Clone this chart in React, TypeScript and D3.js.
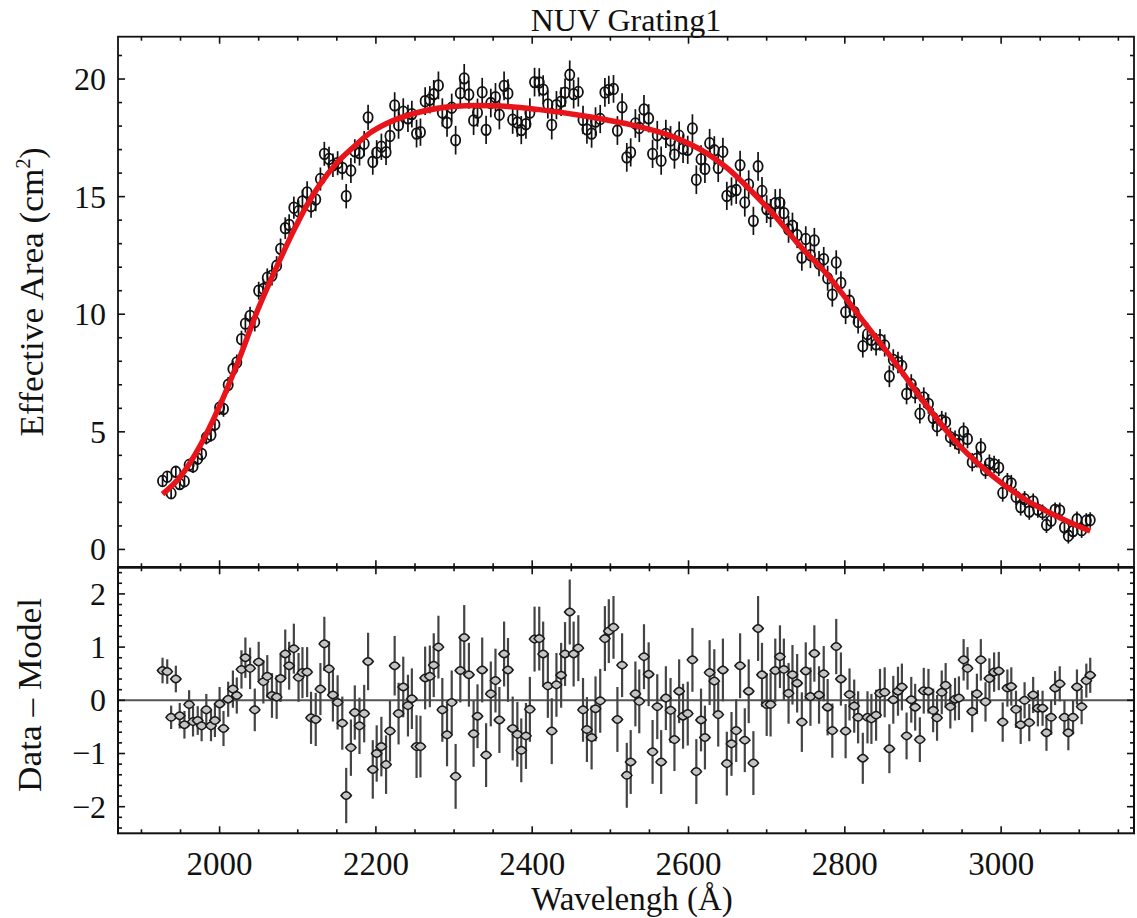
import React from "react";
import * as d3 from "d3";

// Bin centres (Å)
const WAVELENGTH = [
  1927, 1933, 1938, 1944, 1949, 1955, 1961, 1966, 1972, 1977,
  1983, 1989, 1994, 2000, 2005, 2011, 2017, 2022, 2028, 2033,
  2039, 2045, 2050, 2056, 2061, 2067, 2073, 2078, 2084, 2089,
  2095, 2101, 2106, 2112, 2117, 2123, 2129, 2134, 2140, 2145,
  2151, 2157, 2162, 2168, 2173, 2179, 2185, 2190, 2196, 2201,
  2207, 2213, 2218, 2224, 2229, 2235, 2241, 2246, 2252, 2257,
  2263, 2269, 2274, 2280, 2285, 2291, 2297, 2302, 2308, 2313,
  2319, 2325, 2330, 2336, 2341, 2347, 2353, 2358, 2364, 2369,
  2375, 2381, 2386, 2392, 2397, 2403, 2409, 2414, 2420, 2425,
  2431, 2437, 2442, 2448, 2453, 2459, 2465, 2470, 2476, 2481,
  2487, 2493, 2498, 2504, 2509, 2515, 2521, 2526, 2532, 2537,
  2543, 2549, 2554, 2560, 2565, 2571, 2577, 2582, 2588, 2593,
  2599, 2605, 2610, 2616, 2621, 2627, 2633, 2638, 2644, 2649,
  2655, 2661, 2666, 2672, 2677, 2683, 2689, 2694, 2700, 2705,
  2711, 2717, 2722, 2728, 2733, 2739, 2745, 2750, 2756, 2761,
  2767, 2773, 2778, 2784, 2789, 2795, 2801, 2806, 2812, 2817,
  2823, 2829, 2834, 2840, 2845, 2851, 2857, 2862, 2868, 2873,
  2879, 2885, 2890, 2896, 2901, 2907, 2913, 2918, 2924, 2929,
  2935, 2941, 2946, 2952, 2957, 2963, 2969, 2974, 2980, 2985,
  2991, 2997, 3002, 3008, 3013, 3019, 3025, 3030, 3036, 3041,
  3047, 3053, 3058, 3064, 3069, 3075, 3081, 3086, 3092, 3097,
  3103, 3109, 3114,
];

// Measured effective area (cm^2)
const EFF_AREA = [
  2.91, 3.09, 2.39, 3.30, 2.78, 2.90, 3.59, 3.53, 3.86, 4.06,
  4.76, 4.87, 5.31, 6.03, 5.97, 7.00, 7.67, 7.95, 8.94, 9.60,
  9.93, 9.67, 11.00, 11.08, 11.55, 11.64, 12.06, 12.78, 13.66, 13.80,
  14.53, 14.38, 14.80, 15.18, 14.59, 14.88, 15.75, 16.82, 16.60, 16.33,
  16.42, 16.22, 15.02, 16.11, 16.93, 16.85, 17.25, 18.37, 16.48, 16.87,
  17.12, 16.89, 17.58, 18.88, 18.04, 18.61, 18.33, 18.51, 17.68, 17.74,
  19.06, 19.12, 19.36, 19.73, 18.58, 18.14, 18.78, 17.40, 19.40, 20.03,
  19.34, 18.24, 18.57, 19.44, 17.84, 18.98, 19.23, 18.48, 19.71, 19.39,
  18.27, 18.15, 17.83, 18.08, 18.57, 19.87, 19.86, 19.55, 18.92, 18.05,
  18.89, 19.04, 19.42, 20.18, 19.36, 19.45, 18.26, 17.86, 17.68, 18.19,
  18.30, 19.43, 19.54, 19.58, 17.81, 18.80, 16.67, 16.88, 18.11, 17.92,
  18.71, 18.33, 16.82, 17.61, 16.53, 17.67, 17.39, 16.78, 17.59, 17.04,
  16.99, 17.90, 15.72, 16.59, 16.18, 17.27, 16.97, 16.22, 16.91, 15.03,
  15.22, 15.28, 16.34, 14.75, 15.52, 13.97, 16.29, 15.24, 14.47, 14.30,
  14.72, 14.74, 14.30, 13.61, 13.76, 13.36, 12.41, 13.20, 12.51, 13.14,
  12.15, 12.34, 11.53, 10.83, 12.20, 11.33, 10.09, 10.57, 10.09, 9.67,
  8.64, 9.15, 8.91, 8.72, 8.91, 8.67, 7.36, 8.06, 7.95, 7.80,
  6.61, 7.02, 6.65, 5.77, 6.46, 6.19, 5.59, 5.24, 5.48, 5.41,
  4.77, 4.66, 4.48, 5.01, 4.70, 3.71, 3.86, 4.34, 3.37, 3.66,
  3.61, 3.48, 2.40, 2.90, 2.81, 2.24, 1.80, 2.14, 1.61, 2.04,
  1.69, 1.58, 1.04, 1.22, 1.68, 1.66, 0.94, 0.58, 0.78, 1.28,
  0.82, 1.22, 1.25,
];

// Data - Model residuals
const RESIDUAL = [
  0.56, 0.54, -0.32, 0.40, -0.29, -0.46, -0.08, -0.40, -0.38, -0.48,
  -0.18, -0.48, -0.38, -0.07, -0.53, 0.02, 0.21, 0.09, 0.58, 0.80,
  0.60, -0.18, 0.72, 0.35, 0.45, 0.09, 0.06, 0.41, 0.87, 0.65,
  0.97, 0.43, 0.52, 0.53, -0.33, -0.36, 0.21, 1.06, 0.59, 0.10,
  -0.04, -0.43, -1.79, -0.89, -0.23, -0.48, -0.25, 0.73, -1.30, -1.00,
  -0.87, -1.21, -0.58, 0.65, -0.25, 0.25, -0.10, 0.03, -0.87, -0.87,
  0.42, 0.45, 0.66, 1.00, -0.18, -0.65, -0.04, -1.43, 0.56, 1.18,
  0.48, -0.63, -0.30, 0.57, -1.03, 0.12, 0.37, -0.37, 0.87, 0.57,
  -0.53, -0.64, -0.94, -0.67, -0.17, 1.15, 1.16, 0.87, 0.27, -0.58,
  0.29, 0.47, 0.87, 1.66, 0.87, 0.98, -0.18, -0.55, -0.70, -0.16,
  -0.01, 1.16, 1.30, 1.37, -0.36, 0.66, -1.41, -1.16, 0.12, -0.02,
  0.82, 0.49, -0.97, -0.12, -1.16, 0.04, -0.19, -0.74, 0.17, -0.30,
  -0.25, 0.76, -1.34, -0.37, -0.70, 0.52, 0.36, -0.27, 0.57, -1.19,
  -0.82, -0.57, 0.65, -0.75, 0.17, -1.18, 1.35, 0.48, -0.08, -0.08,
  0.56, 0.82, 0.58, 0.13, 0.48, 0.32, -0.41, 0.55, 0.07, 0.88,
  0.10, 0.50, -0.13, -0.57, 1.01, 0.40, -0.58, 0.11, -0.11, -0.32,
  -1.09, -0.32, -0.35, -0.28, 0.13, 0.15, -0.91, 0.01, 0.17, 0.25,
  -0.67, 0.01, -0.13, -0.74, 0.18, 0.17, -0.19, -0.33, 0.15, 0.28,
  -0.12, 0.02, 0.04, 0.76, 0.60, -0.21, 0.12, 0.76, -0.03, 0.41,
  0.53, 0.55, -0.41, 0.23, 0.26, -0.17, -0.46, 0.00, -0.42, 0.10,
  -0.15, -0.15, -0.61, -0.32, 0.23, 0.31, -0.32, -0.61, -0.32, 0.25,
  -0.12, 0.37, 0.47,
];

// 1-sigma errors (cm^2)
const ERROR = [
  0.24, 0.23, 0.22, 0.25, 0.24, 0.26, 0.27, 0.28, 0.27, 0.29,
  0.30, 0.29, 0.31, 0.32, 0.33, 0.33, 0.35, 0.34, 0.36, 0.38,
  0.39, 0.40, 0.38, 0.41, 0.40, 0.42, 0.41, 0.44, 0.46, 0.45,
  0.47, 0.46, 0.48, 0.47, 0.49, 0.50, 0.49, 0.51, 0.52, 0.50,
  0.51, 0.50, 0.52, 0.53, 0.51, 0.53, 0.54, 0.54, 0.55, 0.53,
  0.56, 0.55, 0.57, 0.56, 0.58, 0.57, 0.58, 0.57, 0.59, 0.58,
  0.59, 0.58, 0.60, 0.59, 0.60, 0.59, 0.60, 0.61, 0.60, 0.61,
  0.60, 0.62, 0.60, 0.61, 0.60, 0.61, 0.60, 0.62, 0.61, 0.60,
  0.60, 0.61, 0.60, 0.62, 0.61, 0.61, 0.60, 0.61, 0.60, 0.62,
  0.60, 0.61, 0.60, 0.61, 0.61, 0.62, 0.60, 0.61, 0.60, 0.61,
  0.60, 0.61, 0.60, 0.59, 0.61, 0.60, 0.61, 0.60, 0.61, 0.60,
  0.61, 0.60, 0.60, 0.61, 0.60, 0.60, 0.61, 0.59, 0.60, 0.61,
  0.60, 0.60, 0.61, 0.59, 0.60, 0.61, 0.60, 0.60, 0.59, 0.60,
  0.60, 0.59, 0.61, 0.60, 0.60, 0.60, 0.61, 0.60, 0.59, 0.60,
  0.60, 0.59, 0.58, 0.57, 0.56, 0.55, 0.56, 0.54, 0.55, 0.53,
  0.54, 0.52, 0.53, 0.51, 0.52, 0.50, 0.51, 0.49, 0.50, 0.49,
  0.48, 0.49, 0.47, 0.48, 0.46, 0.47, 0.46, 0.45, 0.46, 0.44,
  0.44, 0.43, 0.44, 0.42, 0.43, 0.42, 0.41, 0.43, 0.41, 0.42,
  0.41, 0.40, 0.41, 0.39, 0.40, 0.39, 0.38, 0.39, 0.37, 0.38,
  0.37, 0.36, 0.37, 0.35, 0.36, 0.35, 0.36, 0.34, 0.35, 0.34,
  0.34, 0.33, 0.34, 0.33, 0.32, 0.33, 0.32, 0.33, 0.32, 0.33,
  0.33, 0.32, 0.33,
];

// Fitted model (red curve)
const MODEL_WAVELENGTH = [
  1927, 1950, 1975, 2000, 2025, 2049, 2077, 2094, 2111, 2128, 2149, 2171,
  2192, 2213, 2256, 2299, 2330, 2360, 2409, 2473, 2516, 2580, 2623, 2650,
  2680, 2710, 2740, 2777, 2819, 2862, 2905, 2947, 2990, 3032, 3075, 3114,
];
const MODEL_AREA = [
  2.35, 3.1, 4.4, 6.1, 8.1, 10.2, 12.3, 13.5, 14.6, 15.5, 16.4, 17.1,
  17.7, 18.1, 18.6, 18.83, 18.87, 18.85, 18.7, 18.4, 18.13, 17.55, 16.85, 16.2,
  15.25, 14.2, 13.0, 11.7, 9.9, 8.05, 6.1, 4.4, 3.1, 2.1, 1.35, 0.78,
];

const X_MAJOR_TICKS = [2000, 2200, 2400, 2600, 2800, 3000];
const TOP_Y_MAJOR_TICKS = [0, 5, 10, 15, 20];
const BOTTOM_Y_MAJOR_TICKS = [-2, -1, 0, 1, 2];

const SERIF = "'Liberation Serif', 'DejaVu Serif', serif";

export default function App() {
  const W = 1137;
  const H = 918;
  const left = 118;
  const right = 1134;
  const top = 36.7;
  const mid = 567.3;
  const bottom = 833.3;

  const x = d3.scaleLinear().domain([1870, 3170]).range([left, right]);
  const yTop = d3.scaleLinear().domain([-0.76, 21.8]).range([mid, top]);
  const yBot = d3.scaleLinear().domain([-2.5, 2.5]).range([bottom, mid]);

  const xMinor = d3.range(1900, 3170, 50).filter((v) => !X_MAJOR_TICKS.includes(v));
  const yTopMinor = d3.range(0, 22, 1).filter((v) => v % 5 !== 0);
  const yBotMinor = d3
    .range(-24, 25, 2)
    .map((v) => v / 10)
    .filter((v) => Math.abs(v - Math.round(v)) > 1e-6);

  const MAJ = 7;
  const MIN = 4;

  const modelLine = d3
    .line<number>()
    .x((_, i) => x(MODEL_WAVELENGTH[i]))
    .y((d) => yTop(d))
    .curve(d3.curveMonotoneX);

  const tickStroke = { stroke: "#111", strokeWidth: 1.6 };

  return (
    <svg
      width={W}
      height={H}
      viewBox={`0 0 ${W} ${H}`}
      style={{ position: "absolute", left: 0, top: 0, background: "#fff" }}
      fontFamily={SERIF}
    >
      <rect x={0} y={0} width={W} height={H} fill="#fff" />

      {/* ---------- Top panel data ---------- */}
      <g>
        {WAVELENGTH.map((w, i) => (
          <line
            key={"te" + i}
            x1={x(w)}
            x2={x(w)}
            y1={yTop(EFF_AREA[i] - ERROR[i])}
            y2={yTop(EFF_AREA[i] + ERROR[i])}
            stroke="#111"
            strokeWidth={1.7}
          />
        ))}
        {WAVELENGTH.map((w, i) => (
          <ellipse
            key={"tc" + i}
            cx={x(w)}
            cy={yTop(EFF_AREA[i])}
            rx={4.6}
            ry={5.3}
            fill="none"
            stroke="#111"
            strokeWidth={1.8}
          />
        ))}
        <path
          d={modelLine(MODEL_AREA) || ""}
          fill="none"
          stroke="#e8141a"
          strokeWidth={5.5}
          strokeLinejoin="round"
        />
      </g>

      {/* ---------- Bottom panel data ---------- */}
      <line x1={left} x2={right} y1={yBot(0)} y2={yBot(0)} stroke="#555" strokeWidth={2} />
      <g>
        {WAVELENGTH.map((w, i) => (
          <line
            key={"be" + i}
            x1={x(w)}
            x2={x(w)}
            y1={yBot(RESIDUAL[i] - ERROR[i])}
            y2={yBot(RESIDUAL[i] + ERROR[i])}
            stroke="#444"
            strokeWidth={2.2}
          />
        ))}
        {WAVELENGTH.map((w, i) => {
          const cx = x(w);
          const cy = yBot(RESIDUAL[i]);
          return (
            <path
              key={"bd" + i}
              d={`M${cx - 5.2},${cy} Q${cx - 2.6},${cy - 3.8} ${cx},${cy - 3.8} Q${cx + 2.6},${cy - 3.8} ${cx + 5.2},${cy} Q${cx + 2.6},${cy + 3.8} ${cx},${cy + 3.8} Q${cx - 2.6},${cy + 3.8} ${cx - 5.2},${cy} Z`}
              fill="#c4c4c4"
              stroke="#1a1a1a"
              strokeWidth={1.5}
            />
          );
        })}
      </g>

      {/* ---------- Frames ---------- */}
      <rect x={left} y={top} width={right - left} height={mid - top} fill="none" stroke="#111" strokeWidth={1.8} />
      <rect x={left} y={mid} width={right - left} height={bottom - mid} fill="none" stroke="#111" strokeWidth={2} />
      <line x1={left} x2={right} y1={mid} y2={mid} stroke="#111" strokeWidth={2.6} />

      {/* ---------- X ticks ---------- */}
      {[true, false].map((major) =>
        (major ? X_MAJOR_TICKS : xMinor).map((v) => {
          const len = major ? MAJ : MIN;
          const px = x(v);
          return (
            <g key={"xt" + major + v} {...tickStroke}>
              <line x1={px} x2={px} y1={bottom} y2={bottom - len} />
              <line x1={px} x2={px} y1={top} y2={top + len} />
              <line x1={px} x2={px} y1={mid - len} y2={mid + len} />
            </g>
          );
        })
      )}

      {/* ---------- Y ticks top ---------- */}
      {[true, false].map((major) =>
        (major ? TOP_Y_MAJOR_TICKS : yTopMinor).map((v) => {
          const len = major ? MAJ : MIN;
          const py = yTop(v);
          return (
            <g key={"yt" + major + v} {...tickStroke}>
              <line x1={left} x2={left + len} y1={py} y2={py} />
              <line x1={right} x2={right - len} y1={py} y2={py} />
            </g>
          );
        })
      )}

      {/* ---------- Y ticks bottom ---------- */}
      {[true, false].map((major) =>
        (major ? BOTTOM_Y_MAJOR_TICKS : yBotMinor).map((v) => {
          const len = major ? MAJ : MIN;
          const py = yBot(v);
          return (
            <g key={"yb" + major + v} {...tickStroke}>
              <line x1={left} x2={left + len} y1={py} y2={py} />
              <line x1={right} x2={right - len} y1={py} y2={py} />
            </g>
          );
        })
      )}

      {/* ---------- Tick labels ---------- */}
      {X_MAJOR_TICKS.map((v) => (
        <text key={"xl" + v} x={x(v)} y={875} textAnchor="middle" fontSize={33} fill="#111">
          {v}
        </text>
      ))}
      {TOP_Y_MAJOR_TICKS.map((v) => (
        <text key={"ytl" + v} x={106} y={yTop(v)} dy="0.34em" textAnchor="end" fontSize={32} fill="#111">
          {v}
        </text>
      ))}
      {BOTTOM_Y_MAJOR_TICKS.map((v) => (
        <text key={"ybl" + v} x={106} y={yBot(v)} dy="0.34em" textAnchor="end" fontSize={32} fill="#111">
          {v < 0 ? "\u2212" + Math.abs(v) : String(v)}
        </text>
      ))}

      {/* ---------- Titles ---------- */}
      <text x={626} y={31} textAnchor="middle" fontSize={32} fill="#111">
        NUV Grating1
      </text>
      <text x={632} y={910} textAnchor="middle" fontSize={33} fill="#111">
        Wavelengh (Å)
      </text>
      <text
        transform="translate(43,292) rotate(-90)"
        textAnchor="middle"
        fontSize={33}
        fill="#111"
      >
        <tspan textLength={268} lengthAdjust="spacingAndGlyphs">Effective Area (cm</tspan>
        <tspan dy={-13} fontSize={20}>2</tspan>
        <tspan dy={13}>)</tspan>
      </text>
      <text
        transform="translate(41,695) rotate(-90)"
        textAnchor="middle"
        fontSize={33}
        fill="#111"
        textLength={194}
        lengthAdjust="spacingAndGlyphs"
      >
        Data – Model
      </text>
    </svg>
  );
}
